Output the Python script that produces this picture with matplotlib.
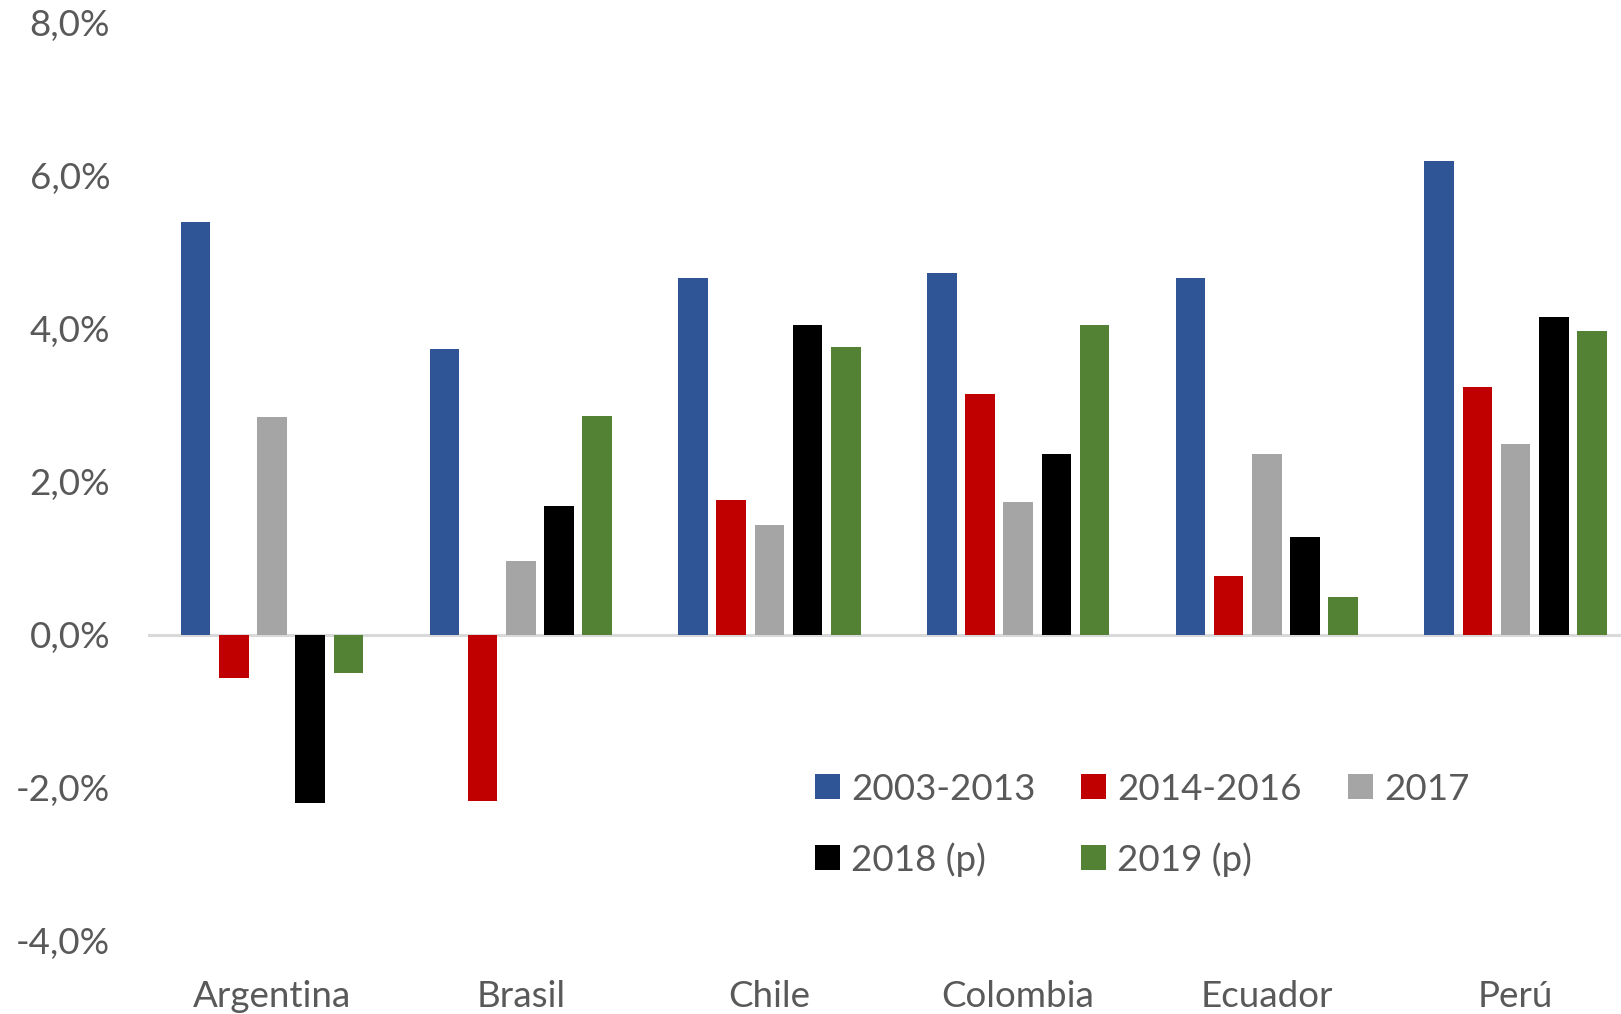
import numpy as np
import matplotlib
matplotlib.use("Agg")
import matplotlib.pyplot as plt
from matplotlib.ticker import FuncFormatter

# Growth rates (%) by country and period
countries = ["Argentina", "Brasil", "Chile", "Colombia", "Ecuador", "Perú"]
series_labels = ["2003-2013", "2014-2016", "2017", "2018 (p)", "2019 (p)"]
s_2003_2013 = [5.39, 3.73, 4.66, 4.72, 4.66, 6.19]
s_2014_2016 = [-0.57, -2.18, 1.76, 3.14, 0.76, 3.23]
s_2017 = [2.84, 0.96, 1.43, 1.73, 2.36, 2.49]
s_2018 = [-2.20, 1.68, 4.05, 2.36, 1.28, 4.15]
s_2019 = [-0.50, 2.86, 3.76, 4.05, 0.49, 3.97]
yticks = [-4, -2, 0, 2, 4, 6, 8]

series = [s_2003_2013, s_2014_2016, s_2017, s_2018, s_2019]
colors = ["#2F5597", "#C00000", "#A5A5A5", "#000000", "#548235"]
text_color = "#595959"

plt.rcParams["font.family"] = ["Lato", "DejaVu Sans"]
fs = 26.5

fig = plt.figure(figsize=(16.21, 10.14), dpi=100)
ax = fig.add_axes([147.7 / 1621, 73.5 / 1014, (6 * 248.7) / 1621, 918 / 1014])

x = np.arange(len(countries))
pitch = 0.1536
width = 0.119
handles = []
for i, (vals, col, lab) in enumerate(zip(series, colors, series_labels)):
    h = ax.bar(x + (i - 2) * pitch, vals, width=width, color=col, label=lab,
               zorder=3)
    handles.append(h)

ax.axhline(0, color="#D9D9D9", linewidth=2.2, zorder=2)

ax.set_xlim(-0.5, len(countries) - 0.5)
ax.set_ylim(-4, 8)
ax.set_yticks(yticks)
ax.yaxis.set_major_formatter(FuncFormatter(lambda v, p: f"{v:.1f}%".replace(".", ",")))
ax.set_xticks(x)
ax.set_xticklabels(countries)
ax.tick_params(axis="both", length=0, labelsize=fs, labelcolor=text_color)
ax.tick_params(axis="y", pad=27)
ax.tick_params(axis="x", pad=28.5)
for s in ax.spines.values():
    s.set_visible(False)

# Legend laid out row by row over three columns
order = [0, 3, 1, 4, 2]
leg = ax.legend([handles[k] for k in order], [series_labels[k] for k in order],
                ncol=3, frameon=False, fontsize=fs, labelcolor=text_color,
                handlelength=0.68, handleheight=0.68, handletextpad=0.3,
                columnspacing=1.25, labelspacing=0.99,
                loc="upper left", bbox_to_anchor=(0.447, 0.183),
                borderaxespad=0, borderpad=0)

fig.savefig("out.png", dpi=100)
